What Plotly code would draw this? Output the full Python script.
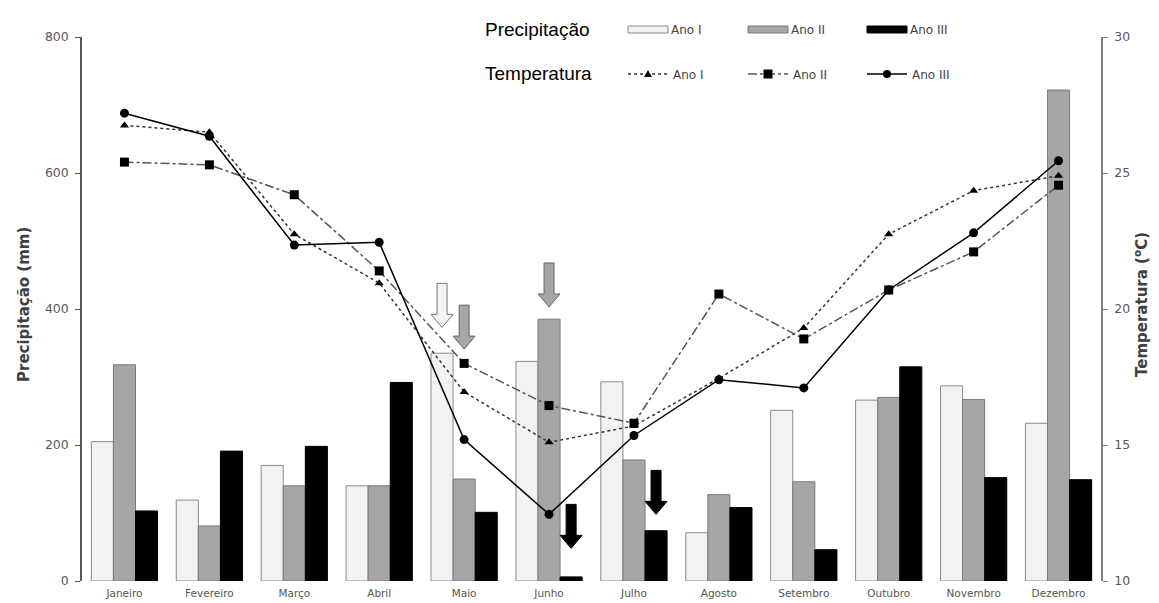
import plotly.graph_objects as go

months = ["Janeiro", "Fevereiro", "Março", "Abril", "Maio", "Junho",
          "Julho", "Agosto", "Setembro", "Outubro", "Novembro", "Dezembro"]

prec_ano1 = [205, 119, 170, 140, 335, 323, 293, 71, 251, 266, 287, 232]
prec_ano2 = [318, 81, 140, 140, 150, 385, 178, 127, 146, 270, 267, 722]
prec_ano3 = [103, 191, 198, 292, 101, 6, 74, 108, 46, 315, 152, 149]

temp_ano1 = [26.75, 26.5, 22.75, 20.95, 16.95, 15.1, 15.7, 17.45, 19.3, 22.75, 24.35, 24.9]
temp_ano2 = [25.4, 25.3, 24.2, 21.4, 18.0, 16.45, 15.8, 20.55, 18.9, 20.7, 22.1, 24.55]
temp_ano3 = [27.2, 26.35, 22.35, 22.45, 15.2, 12.45, 15.35, 17.4, 17.1, 20.7, 22.8, 25.45]

# arrows: (month index, series 0/1/2, tip value in mm)
arrows = [(4, 0, 373), (4, 1, 341), (5, 1, 403), (5, 2, 48), (6, 2, 98)]

x = list(range(len(months)))
BARGAP = 0.22
W = (1 - BARGAP) / 3

SMALL = "DejaVu Sans"

fig = go.Figure()
bar_styles = [("#f2f2f2", "#8a8a8a"), ("#a6a6a6", "#7a7a7a"), ("#000000", "#000000")]
for vals, (fc, lc), name in zip([prec_ano1, prec_ano2, prec_ano3], bar_styles, ["Ano I", "Ano II", "Ano III"]):
    fig.add_trace(go.Bar(x=x, y=vals, name=name, marker=dict(color=fc, line=dict(color=lc, width=1)),
                         showlegend=False))

line_styles = [
    dict(color="#333333", dash="dot", width=1.5, sym="triangle-up", size=8),
    dict(color="#555555", dash="dashdot", width=1.5, sym="square", size=9),
    dict(color="#000000", dash="solid", width=1.5, sym="circle", size=9),
]
for vals, st in zip([temp_ano1, temp_ano2, temp_ano3], line_styles):
    fig.add_trace(go.Scatter(x=x, y=vals, yaxis="y2", mode="lines+markers",
                             line=dict(color=st["color"], dash=st["dash"], width=st["width"]),
                             marker=dict(symbol=st["sym"], size=st["size"], color="#000000"),
                             showlegend=False))

# arrows
arrow_path = "M0,0 L-11,13 L-5,13 L-5,44 L5,44 L5,13 L11,13 Z"
arrow_styles = [("#f4f4f4", "#777777"), ("#a6a6a6", "#666666"), ("#000000", "#000000")]
shapes = []
for mi, si, tip in arrows:
    fc, lc = arrow_styles[si]
    shapes.append(dict(type="path", xref="x", yref="y", xsizemode="pixel", ysizemode="pixel",
                       xanchor=mi + (si - 1) * W, yanchor=tip, path=arrow_path,
                       fillcolor=fc, line=dict(color=lc, width=1)))

# page offset (default body margin of the html page)
OFF = 8
# plot area in reference pixel coordinates
L, R, T, B = 82, 1101, 37, 581
def px(v):
    return (v - L) / (R - L)
def py(v):
    return (B - v) / (B - T)

annotations = []
annotations.append(dict(text="Precipitação", x=px(483), y=py(29), xref="paper", yref="paper",
                        xanchor="left", yanchor="middle", showarrow=False,
                        font=dict(family="Arial", size=19, color="#000")))
annotations.append(dict(text="Temperatura", x=px(483), y=py(74), xref="paper", yref="paper",
                        xanchor="left", yanchor="middle", showarrow=False,
                        font=dict(family="Arial", size=19, color="#000")))
leg_x = [628, 748, 867]
names = ["Ano I", "Ano II", "Ano III"]
for i, lx in enumerate(leg_x):
    fc, lc = bar_styles[i]
    shapes.append(dict(type="rect", xref="paper", yref="paper", x0=px(lx), x1=px(lx + 40),
                       y0=py(33), y1=py(26), fillcolor=fc, line=dict(color=lc, width=1)))
    annotations.append(dict(text=names[i], x=px(lx + 41), y=py(29.5), xref="paper", yref="paper",
                            xanchor="left", yanchor="middle", showarrow=False,
                            font=dict(family=SMALL, size=12, color="#444")))
    st = line_styles[i]
    shapes.append(dict(type="line", xref="paper", yref="paper", x0=px(lx), x1=px(lx + 40),
                       y0=py(74), y1=py(74), line=dict(color=st["color"], dash=st["dash"], width=1.5)))
    annotations.append(dict(text=names[i], x=px(lx + 43), y=py(74.5), xref="paper", yref="paper",
                            xanchor="left", yanchor="middle", showarrow=False,
                            font=dict(family=SMALL, size=12, color="#444")))
    cx = lx + 20
    if st["sym"] == "circle":
        shapes.append(dict(type="circle", xref="paper", yref="paper", x0=px(cx - 4), x1=px(cx + 4),
                           y0=py(78), y1=py(70), fillcolor="#000", line=dict(color="#000", width=0)))
    elif st["sym"] == "square":
        shapes.append(dict(type="rect", xref="paper", yref="paper", x0=px(cx - 4.5), x1=px(cx + 4.5),
                           y0=py(78.5), y1=py(69.5), fillcolor="#000", line=dict(color="#000", width=0)))
    else:
        shapes.append(dict(type="path", xref="paper", yref="paper", xsizemode="pixel", ysizemode="pixel",
                           xanchor=px(cx), yanchor=py(74), path="M-4,-3 L4,-3 L0,4 Z",
                           fillcolor="#000", line=dict(color="#000", width=0)))

# axis titles
annotations.append(dict(text="<b>Precipitação (mm)</b>", x=px(24), y=py(305), xref="paper", yref="paper",
                        textangle=-90, showarrow=False, xanchor="center", yanchor="middle",
                        font=dict(family=SMALL, size=15, color="#404040")))
annotations.append(dict(text="<b>Temperatura (<sup>o</sup>C)</b>", x=px(1141), y=py(305), xref="paper", yref="paper",
                        textangle=-90, showarrow=False, xanchor="center", yanchor="middle",
                        font=dict(family=SMALL, size=15, color="#404040")))

FW, FH = 1159 - OFF, 603 - OFF
fig.update_layout(
    width=FW, height=FH,
    margin=dict(l=L - OFF, r=FW - (R - OFF), t=T - OFF, b=FH - (B - OFF), pad=0, autoexpand=False),
    paper_bgcolor="white", plot_bgcolor="white",
    barmode="group", bargap=BARGAP, bargroupgap=0,
    xaxis=dict(tickmode="array", tickvals=x, ticktext=months, range=[-0.5, 11.5], automargin=False,
               showline=False, showgrid=False, zeroline=False, ticks="",
               tickfont=dict(family=SMALL, size=10.5, color="#555"), ticklabelstandoff=4),
    yaxis=dict(range=[0, 800], tickvals=[0, 200, 400, 600, 800], showgrid=False, zeroline=False,
               showline=True, linecolor="#595959", linewidth=1.5, ticks="outside", ticklen=5,
               tickcolor="#595959", ticklabelstandoff=4, automargin=False,
               tickfont=dict(family=SMALL, size=12.5, color="#595959")),
    yaxis2=dict(range=[10, 30], tickvals=[10, 15, 20, 25, 30], overlaying="y", side="right",
                showgrid=False, zeroline=False, showline=True, linecolor="#808080", linewidth=1.5,
                ticks="outside", ticklen=5, tickcolor="#808080", ticklabelstandoff=4, automargin=False,
                tickfont=dict(family=SMALL, size=12.5, color="#595959")),
    shapes=shapes, annotations=annotations,
)

fig.write_html("out.html")
